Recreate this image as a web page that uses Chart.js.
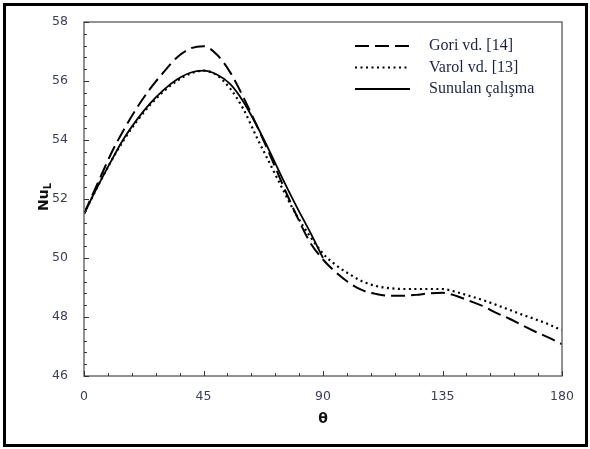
<!DOCTYPE html>
<html>
<head>
<meta charset="utf-8">
<script src="https://cdn.jsdelivr.net/npm/chart.js@4.4.1/dist/chart.umd.min.js"></script>
<style>
  html, body { margin: 0; padding: 0; background: #fff; }
  canvas { display: block; }
</style>
</head>
<body>
<canvas id="myChart" width="590" height="449"></canvas>
<script>
// angle (degrees) and Nu_L values
const theta = [0, 5, 10, 15, 20, 25, 30, 35, 40, 45, 50, 55, 60, 65, 70, 75, 80, 85, 90,
               95, 100, 105, 110, 115, 120, 125, 130, 135, 140, 145, 150, 155, 160, 165, 170, 175, 180];
const gori = [51.5, 52.5, 53.5, 54.35, 55.1, 55.75, 56.3, 56.8, 57.1, 57.18, 56.9, 56.3, 55.45, 54.5, 53.5, 52.45, 51.45, 50.55, 49.95,
              49.5, 49.15, 48.9, 48.78, 48.72, 48.72, 48.75, 48.8, 48.82, 48.72, 48.55, 48.38, 48.15, 47.95, 47.72, 47.5, 47.3, 47.08];
const varol = [51.5, 52.4, 53.25, 54.0, 54.65, 55.2, 55.65, 56.0, 56.25, 56.35, 56.2, 55.75, 55.05, 54.1, 53.2, 52.3, 51.45, 50.75, 50.15,
               49.75, 49.45, 49.2, 49.05, 48.98, 48.95, 48.95, 48.95, 48.95, 48.85, 48.72, 48.58, 48.42, 48.25, 48.08, 47.92, 47.75, 47.55];
const thetaSunulan = [0, 5, 10, 15, 20, 25, 30, 35, 40, 45, 50, 55, 60, 65, 70, 75, 80, 85, 90];
const sunulan = [51.5, 52.4, 53.25, 54.05, 54.7, 55.25, 55.7, 56.05, 56.28, 56.35, 56.22, 55.9, 55.3, 54.5, 53.6, 52.65, 51.75, 50.9, 50.0];

const xTicks = [0, 45, 90, 135, 180];
const yTicks = [46, 48, 50, 52, 54, 56, 58];
const seriesNames = ['Gori vd. [14]', 'Varol vd. [13]', 'Sunulan çalışma'];

const toPoints = (xs, ys) => xs.map((x, i) => ({ x: x, y: ys[i] }));

// white background + outer black frame
const framePlugin = {
  id: 'frame',
  beforeDraw(chart) {
    const c = chart.ctx;
    c.save();
    c.fillStyle = '#fff';
    c.fillRect(0, 0, chart.width, chart.height);
    c.strokeStyle = '#000';
    c.lineWidth = 3;
    c.strokeRect(4.5, 4.5, chart.width - 8, chart.height - 8);
    c.restore();
  }
};

// box round the plot and inward tick marks
const boxPlugin = {
  id: 'box',
  afterDatasetsDraw(chart) {
    const c = chart.ctx;
    const a = chart.chartArea;
    const xs = chart.scales.x, ys = chart.scales.y;
    c.save();
    c.strokeStyle = '#6e6e6e';
    c.lineWidth = 1.5;
    c.strokeRect(a.left, a.top, a.right - a.left, a.bottom - a.top);
    c.strokeStyle = '#333';
    c.lineWidth = 1;
    c.beginPath();
    for (let i = 0; i <= 30; i++) {
      const py = Math.round(ys.getPixelForValue(46 + i * 0.4)) + 0.5;
      const len = i % 5 === 0 ? 5 : 3;
      c.moveTo(a.left, py);
      c.lineTo(a.left + len, py);
    }
    for (let i = 0; i <= 20; i++) {
      const px = Math.round(xs.getPixelForValue(i * 9)) + 0.5;
      const len = i % 5 === 0 ? 5 : 3;
      c.moveTo(px, a.bottom);
      c.lineTo(px, a.bottom - len);
    }
    c.stroke();
    c.restore();
  }
};

// y axis title Nu with subscript L
const yTitlePlugin = {
  id: 'yTitle',
  afterDraw(chart) {
    const c = chart.ctx;
    const a = chart.chartArea;
    c.save();
    c.translate(44, (a.top + a.bottom) / 2 - 2);
    c.rotate(-Math.PI / 2);
    c.fillStyle = '#111';
    c.textBaseline = 'middle';
    c.font = 'bold 14px "DejaVu Sans"';
    const w1 = c.measureText('Nu').width;
    c.font = 'bold 10px "DejaVu Sans"';
    const w2 = c.measureText('L').width;
    const x0 = -(w1 + w2) / 2;
    c.font = 'bold 14px "DejaVu Sans"';
    c.textAlign = 'left';
    c.fillText('Nu', x0, 0);
    c.font = 'bold 10px "DejaVu Sans"';
    c.fillText('L', x0 + w1, 4);
    c.restore();
  }
};

// legend inside the plot, top right
const legendPlugin = {
  id: 'insideLegend',
  afterDraw(chart) {
    const c = chart.ctx;
    const x0 = 355, x1 = 410, tx = 429, y0 = 46, dy = 21.5;
    c.save();
    chart.data.datasets.forEach((ds, i) => {
      const y = y0 + i * dy;
      c.strokeStyle = ds.borderColor;
      c.lineWidth = ds.borderWidth;
      c.setLineDash(ds.borderDash || []);
      c.beginPath();
      c.moveTo(x0, y);
      c.lineTo(x1, y);
      c.stroke();
      c.setLineDash([]);
      c.fillStyle = '#1c2340';
      c.font = '16px "Liberation Serif"';
      c.textBaseline = 'middle';
      c.textAlign = 'left';
      c.fillText(ds.label, tx, y);
    });
    c.restore();
  }
};

const ctx = document.getElementById('myChart');
new Chart(ctx, {
  type: 'line',
  data: {
    datasets: [{
      label: seriesNames[0],
      data: toPoints(theta, gori),
      borderColor: '#000',
      borderWidth: 2,
      borderDash: [14, 6],
      pointRadius: 0,
      cubicInterpolationMode: 'monotone'
    }, {
      label: seriesNames[1],
      data: toPoints(theta, varol),
      borderColor: '#000',
      borderWidth: 2.2,
      borderDash: [2, 3.5],
      pointRadius: 0,
      cubicInterpolationMode: 'monotone'
    }, {
      label: seriesNames[2],
      data: toPoints(thetaSunulan, sunulan),
      borderColor: '#000',
      borderWidth: 1.8,
      pointRadius: 0,
      cubicInterpolationMode: 'monotone'
    }]
  },
  options: {
    responsive: false,
    animation: false,
    layout: { padding: { top: 22, right: 28, left: 0, bottom: 0 } },
    plugins: {
      legend: { display: false },
      tooltip: { enabled: false }
    },
    scales: {
      x: {
        type: 'linear',
        min: 0,
        max: 180,
        afterBuildTicks: (scale) => { scale.ticks = xTicks.map(v => ({ value: v })); },
        afterFit: (scale) => { scale.height = 73; },
        grid: { display: false },
        border: { display: false },
        ticks: {
          padding: 5,
          color: '#3b3f52',
          font: { family: '"DejaVu Sans"', size: 12.5 }
        },
        title: {
          display: true,
          text: 'θ',
          color: '#111',
          font: { family: '"DejaVu Sans"', size: 14, weight: 'bold' },
          padding: { top: 0, bottom: 21 }
        }
      },
      y: {
        min: 46,
        max: 58,
        afterBuildTicks: (scale) => { scale.ticks = yTicks.map(v => ({ value: v })); },
        afterFit: (scale) => { scale.width = 84; },
        grid: { display: false },
        border: { display: false },
        ticks: {
          padding: 8,
          color: '#3b3f52',
          font: { family: '"DejaVu Sans"', size: 12.5 }
        }
      }
    }
  },
  plugins: [framePlugin, boxPlugin, yTitlePlugin, legendPlugin]
});
</script>
</body>
</html>
